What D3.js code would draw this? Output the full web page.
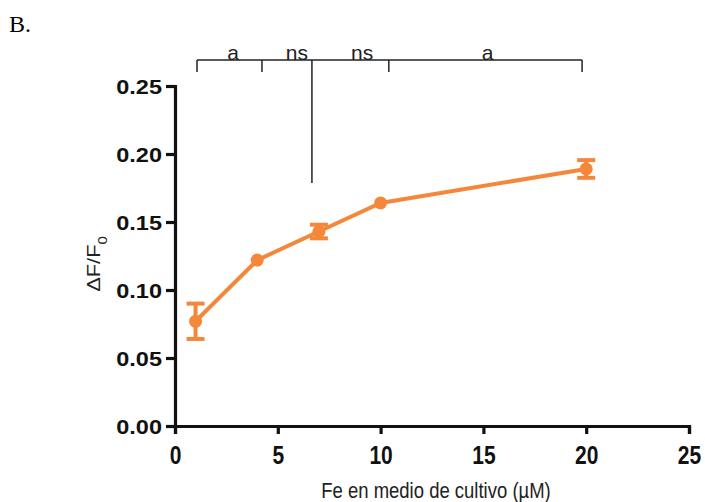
<!DOCTYPE html>
<html>
<head>
<meta charset="utf-8">
<script src="https://cdn.jsdelivr.net/npm/d3@7"></script>
<style>
  body { margin: 0; background: #fff; }
  svg { display: block; }
</style>
</head>
<body>
<script>
// data
var fe = [1, 4, 7, 10, 20];
var dff = [0.077, 0.122, 0.143, 0.164, 0.189];
var sem = [0.013, 0.002, 0.005, 0.002, 0.0065];
var xTicks = [0, 5, 10, 15, 20, 25];
var yTicks = [0, 0.05, 0.10, 0.15, 0.20, 0.25];
// significance bracket: segment ends (x in uM) and their labels
var bracketEdges = [1.07, 4.23, 6.66, 10.4, 19.8];
var bracketLabels = ["a", "ns", "ns", "a"];
var bracketLabelX = [2.82, 5.93, 9.1, 15.2];

var W = 705, H = 502;
var orange = "#f5873a";
var sans = "Liberation Sans, Arial, Helvetica, sans-serif";

var svg = d3.select("body").append("svg")
    .attr("width", W)
    .attr("height", H);

var x = d3.scaleLinear().domain([0, 25]).range([175, 689]);
var y = d3.scaleLinear().domain([0, 0.25]).range([426, 86]);

svg.append("text")
    .attr("x", 9).attr("y", 32)
    .attr("font-family", "Liberation Serif, Times New Roman, serif")
    .attr("font-size", 24)
    .text("B.");

// axes
var xAxis = svg.append("g")
    .attr("transform", "translate(0," + y(0) + ")")
    .call(d3.axisBottom(x).tickValues(xTicks).tickSize(8).tickFormat(d3.format("d")));
var yAxis = svg.append("g")
    .attr("transform", "translate(" + x(0) + ",0)")
    .call(d3.axisLeft(y).tickValues(yTicks).tickSize(9).tickPadding(3).tickFormat(d3.format(".2f")));

[xAxis, yAxis].forEach(function(g) {
  g.select(".domain").attr("stroke", "#111").attr("stroke-width", 3.2);
  g.selectAll(".tick line").attr("stroke", "#111").attr("stroke-width", 3.2);
  g.selectAll(".tick text")
    .attr("fill", "#111")
    .attr("font-family", sans)
    .attr("font-weight", "bold")
    .attr("font-size", 21);
});
// y tick numbers are a little wider in the scan
yAxis.selectAll(".tick text")
    .attr("dy", "0.38em")
    .attr("x", -13 / 1.12)
    .attr("transform", "scale(1.12,1)");
// x tick numbers look a bit taller than wide in the scan
xAxis.selectAll(".tick text")
    .attr("dy", 0)
    .attr("y", 38.5 / 1.22)
    .attr("transform", "scale(1,1.22)");

// axis titles
svg.append("text")
    .attr("transform", "translate(436,498) scale(1,1.15)")
    .attr("text-anchor", "middle")
    .attr("font-family", sans)
    .attr("font-size", 18.5)
    .attr("fill", "#222")
    .text("Fe en medio de cultivo (µM)");

var yl = svg.append("text")
    .attr("transform", "translate(100,264) rotate(-90) scale(1.15,1)")
    .attr("text-anchor", "middle")
    .attr("font-family", sans)
    .attr("font-size", 19)
    .attr("fill", "#222");
yl.append("tspan").text("ΔF/F");
yl.append("tspan").attr("baseline-shift", "sub").attr("font-size", 13).text("0");

// significance bracket
var bTop = 60;
var br = svg.append("g").attr("stroke", "#222").attr("stroke-width", 1.5).attr("fill", "none");
br.append("line")
    .attr("x1", x(bracketEdges[0])).attr("x2", x(bracketEdges[bracketEdges.length - 1]))
    .attr("y1", bTop).attr("y2", bTop);
bracketEdges.forEach(function(e, i) {
  var len = (i === 2) ? 123 : 12;
  br.append("line")
    .attr("x1", x(e)).attr("x2", x(e))
    .attr("y1", bTop).attr("y2", bTop + len);
});
svg.selectAll(".blab")
  .data(bracketLabels)
  .enter().append("text")
    .attr("x", function(d, i) { return x(bracketLabelX[i]); })
    .attr("y", 60)
    .attr("text-anchor", "middle")
    .attr("font-family", sans)
    .attr("font-size", 21)
    .attr("fill", "#222")
    .text(function(d) { return d; });

// series
var pts = fe.map(function(v, i) { return {x: v, y: dff[i], e: sem[i]}; });

svg.append("path")
    .datum(pts)
    .attr("fill", "none")
    .attr("stroke", orange)
    .attr("stroke-width", 4)
    .attr("d", d3.line().x(function(d) { return x(d.x); }).y(function(d) { return y(d.y); }));

var eb = svg.append("g").attr("stroke", orange).attr("stroke-width", 4);
pts.forEach(function(d) {
  if (d.e < 0.004) return;
  eb.append("line")
    .attr("x1", x(d.x)).attr("x2", x(d.x))
    .attr("y1", y(d.y - d.e)).attr("y2", y(d.y + d.e));
  [d.y - d.e, d.y + d.e].forEach(function(v) {
    eb.append("line")
      .attr("x1", x(d.x) - 9).attr("x2", x(d.x) + 9)
      .attr("y1", y(v)).attr("y2", y(v));
  });
});

svg.selectAll(".pt")
  .data(pts)
  .enter().append("circle")
    .attr("cx", function(d) { return x(d.x); })
    .attr("cy", function(d) { return y(d.y); })
    .attr("r", 6.5)
    .attr("fill", orange);
</script>
</body>
</html>
